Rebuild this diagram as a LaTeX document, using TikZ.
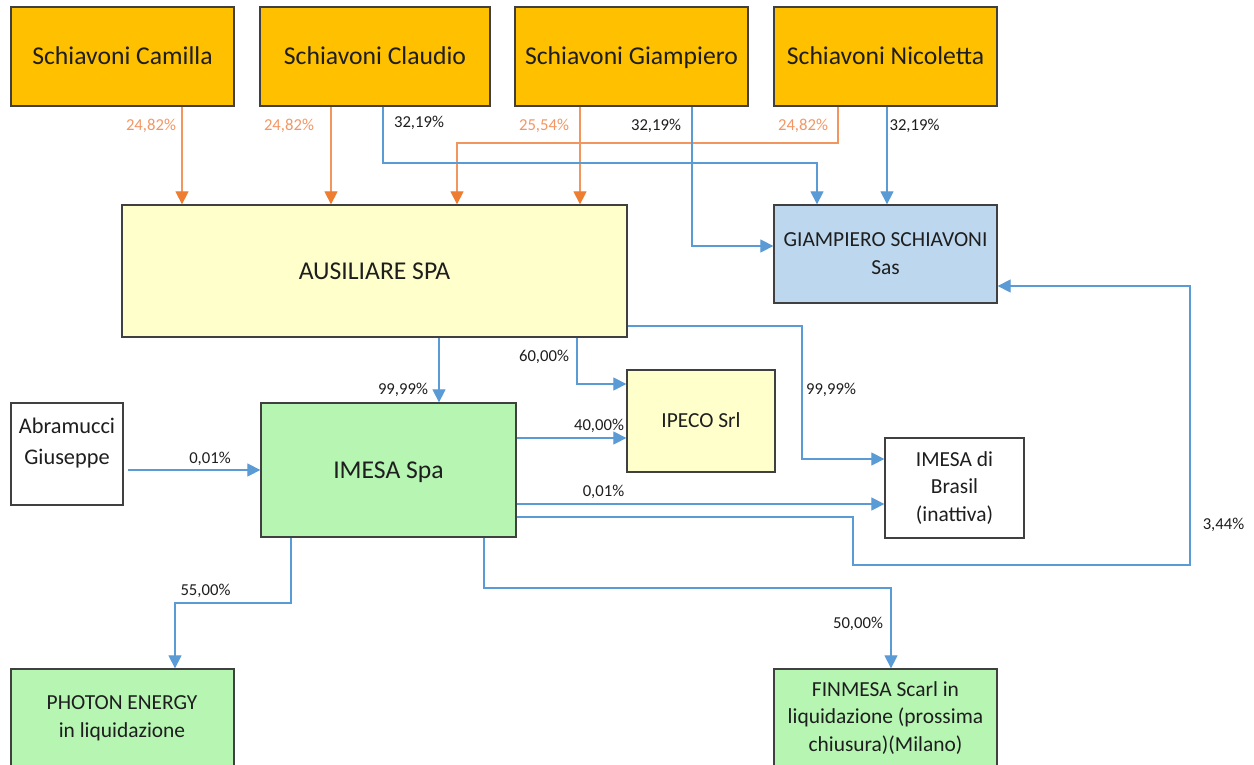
\documentclass[tikz,border=0pt]{standalone}
\usepackage{fontspec}
\setmainfont{Carlito}
\usetikzlibrary{arrows.meta}
\definecolor{gold}{RGB}{255,192,0}
\definecolor{lyel}{RGB}{255,255,204}
\definecolor{lblue}{RGB}{189,215,238}
\definecolor{lgreen}{RGB}{182,245,178}
\definecolor{bdr}{RGB}{64,64,64}
\definecolor{txt}{RGB}{30,30,30}
\definecolor{oline}{RGB}{241,150,95}
\definecolor{otip}{RGB}{237,125,49}
\definecolor{otxt}{RGB}{244,150,100}
\definecolor{bline}{RGB}{91,155,213}
\tikzset{
  box/.style={draw=bdr, line width=0.75pt, inner sep=0pt, align=center, text=txt},
  big/.style={font=\fontsize{14.6}{17.5}\selectfont, text height=9.3pt, text depth=0pt},
  med/.style={font=\fontsize{12.2}{15.8}\selectfont},
  medone/.style={med, text height=7.8pt, text depth=0pt},
  pct/.style={font=\fontsize{9.5}{11}\selectfont, text=txt, inner sep=0pt},
  opct/.style={pct, text=otxt},
  oarr/.style={draw=oline, line width=0.7pt, -{Triangle[length=0.26cm,width=0.26cm,color=otip]}},
  barr/.style={draw=bline, line width=0.7pt, -{Triangle[length=0.26cm,width=0.26cm,color=bline]}},
}
\begin{document}
\begin{tikzpicture}[x=0.02cm,y=-0.02cm]
\useasboundingbox (0,0) rectangle (1254,764);
\clip (0,0) rectangle (1254,764);
\fill[white] (0,0) rectangle (1254,764);
% boxes
\node[box, big, fill=gold, minimum width=4.46cm, minimum height=1.98cm] (cam) at (122.5,56.5) {Schiavoni Camilla};
\node[box, big, fill=gold, minimum width=4.60cm, minimum height=1.98cm] (cla) at (375,56.5) {Schiavoni Claudio};
\node[box, big, fill=gold, minimum width=4.66cm, minimum height=1.98cm] (gia) at (631.5,56.5) {Schiavoni Giampiero};
\node[box, big, fill=gold, minimum width=4.46cm, minimum height=1.98cm] (nic) at (885.5,56.5) {Schiavoni Nicoletta};
\node[box, big, fill=lyel, minimum width=10.10cm, minimum height=2.64cm] (aus) at (374.5,271) {AUSILIARE SPA};
\node[box, med, fill=lblue, minimum width=4.46cm, minimum height=1.96cm] (sas) at (885.5,254) {GIAMPIERO SCHIAVONI\\Sas};
\node[box, medone, fill=lyel, minimum width=2.96cm, minimum height=2.04cm] (ipe) at (701,421) {IPECO Srl};
\node[box, big, fill=lgreen, minimum width=5.10cm, minimum height=2.68cm] (ime) at (388.5,470) {IMESA Spa};
\node[box, fill=white, minimum width=2.24cm, minimum height=2.04cm] (abr) at (67,454) {};
\node[text=txt, align=center, font=\fontsize{12.7}{18}\selectfont] (abrt) at (67,443) {Abramucci\\Giuseppe};
\node[box, med, fill=white, minimum width=2.78cm, minimum height=2.00cm] (bra) at (954.5,488) {IMESA di\\Brasil\\(inattiva)};
\node[box, fill=lgreen, minimum width=4.46cm, minimum height=2.42cm] (pho) at (122.5,729.5) {};
\node[med, text=txt, align=center] (phot) at (122,718) {PHOTON ENERGY\\in liquidazione};
\node[box, fill=lgreen, minimum width=4.46cm, minimum height=2.42cm] (fin) at (885.5,729.5) {};
\node[med, text=txt, align=center] (fint) at (885.5,718) {FINMESA Scarl in\\liquidazione (prossima\\chiusura)(Milano)};
% orange connectors
\draw[oarr] (cam.south -| 182,0) -- (aus.north -| 182,0);
\draw[oarr] (cla.south -| 331,0) -- (aus.north -| 331,0);
\draw[oarr] (gia.south -| 580,0) -- (aus.north -| 580,0);
\draw[oarr] (nic.south -| 838,0) -- (838,143) -- (457,143) -- (aus.north -| 457,0);
% blue connectors
\draw[barr] (cla.south -| 383,0) -- (383,163) -- (817,163) -- (sas.north -| 817,0);
\draw[barr] (gia.south -| 692,0) -- (692,246) -- (sas.west |- 0,246);
\draw[barr] (nic.south -| 887,0) -- (sas.north -| 887,0);
\draw[barr] (ime.east |- 0,517) -- (853,517) -- (853,565) -- (1190,565) -- (1190,286) -- (sas.east |- 0,286);
\draw[barr] (aus.south -| 439,0) -- (ime.north -| 439,0);
\draw[barr] (aus.south -| 577,0) -- (577,384) -- (ipe.west |- 0,384);
\draw[barr] (aus.east |- 0,326) -- (802,326) -- (802,459) -- (bra.west |- 0,459);
\draw[barr] (ime.east |- 0,438) -- (ipe.west |- 0,438);
\draw[barr] (ime.east |- 0,504) -- (bra.west |- 0,504);
\draw[barr, shorten <=0.08cm] (abr.east |- 0,470) -- (ime.west |- 0,470);
\draw[barr] (ime.south -| 291,0) -- (291,603) -- (175,603) -- (pho.north -| 175,0);
\draw[barr] (ime.south -| 484,0) -- (484,588) -- (891,588) -- (fin.north -| 891,0);
% labels
\node[opct] (l1) at (151,126) {24,82\%};
\node[opct] (l2) at (289,126) {24,82\%};
\node[pct] (l3) at (419,123) {32,19\%};
\node[opct] (l4) at (544,126) {25,54\%};
\node[pct] (l5) at (656,126) {32,19\%};
\node[opct] (l6) at (803,126) {24,82\%};
\node[pct] (l7) at (914.5,126) {32,19\%};
\node[pct] (l8) at (403,390) {99,99\%};
\node[pct] (l9) at (544,357) {60,00\%};
\node[pct] (l10) at (831,390) {99,99\%};
\node[pct] (l11) at (599,426) {40,00\%};
\node[pct] (l12) at (603.5,492) {0,01\%};
\node[pct] (l13) at (210,459) {0,01\%};
\node[pct] (l14) at (1223.5,525) {3,44\%};
\node[pct] (l15) at (205.5,591) {55,00\%};
\node[pct] (l16) at (858,624) {50,00\%};
\end{tikzpicture}
\end{document}
